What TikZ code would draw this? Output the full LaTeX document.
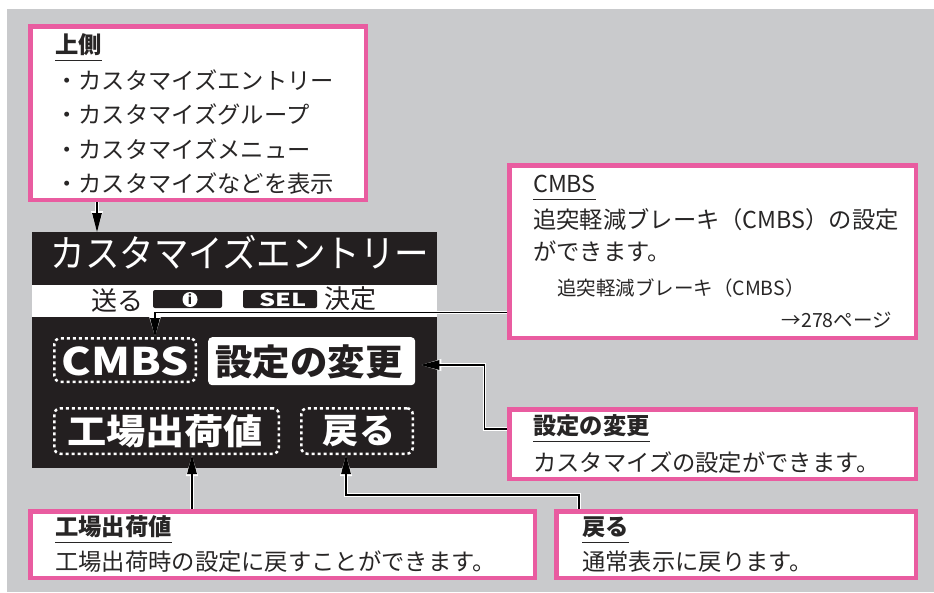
\documentclass[tikz,border=0pt]{standalone}
\usepackage{fontspec}
\setmainfont{Noto Sans CJK JP}
\usetikzlibrary{arrows.meta}
\definecolor{bggray}{RGB}{201,202,204}
\definecolor{mypink}{RGB}{233,92,160}
\definecolor{scrblack}{RGB}{35,31,32}
\definecolor{txt}{RGB}{40,38,38}
\begin{document}
\begin{tikzpicture}[x=1pt,y=-1pt,
  callout/.style={draw=mypink, line width=4.5pt, fill=white, inner sep=0pt, anchor=north west},
  body/.style={anchor=base west, inner sep=0pt, text=txt, font=\fontsize{23.3}{28}\selectfont},
  small/.style={body, font=\fontsize{19.5}{24}\selectfont},
  ttl/.style={body, font=\fontsize{23.3}{28}\selectfont\bfseries},
  uline/.style={line width=1pt, txt},
  dotbox/.style={draw=white, line width=2.5pt, dash pattern=on 3pt off 3pt, rounded corners=6pt, inner sep=0pt, anchor=north west},
  scrtxt/.style={inner sep=0pt, text=white},
  bandtxt/.style={inner sep=0pt, text=scrblack, font=\fontsize{26}{30}\selectfont},
  tabbox/.style={fill=scrblack, rounded corners=2pt, minimum height=18pt, inner sep=0pt},
  conn/.style={line width=1.4pt, black, -{Triangle[length=19pt,width=9.5pt]},
    preaction={draw=white, line width=3.6pt, -{Triangle[length=21pt,width=11pt]}}}
]
\useasboundingbox (0,0) rectangle (934,592);
\fill[white] (0,0) rectangle (934,592);
\fill[bggray] (7,9) rectangle (934,592);

% screen
\node[fill=scrblack, minimum width=405pt, minimum height=236pt, inner sep=0pt, outer sep=0pt, anchor=north west] (scr) at (32,232) {};
\node[fill=white, minimum width=405pt, minimum height=32pt, inner sep=0pt, outer sep=0pt, anchor=north west] (band) at (32,285) {};
\node[scrtxt, font=\fontsize{34.5}{40}\selectfont] (stitle) at (240,252) {\scalebox{1}[1.1]{カスタマイズエントリー}};
\node[bandtxt] (okuru) at (117,301) {送る};
\node[tabbox, minimum width=69pt] (itab) at (187.5,299) {};
\node[circle, fill=white, minimum size=15pt, inner sep=0pt] (iicon) at (190,299.5) {};
\node[inner sep=0pt, text=scrblack, font=\fontsize{13}{13}\selectfont\bfseries] (ichar) at (iicon) {i};
\node[tabbox, minimum width=74pt] (seltab) at (280,299) {};
\node[scrtxt, font=\fontsize{18}{18}\selectfont\bfseries] (seltxt) at (283,300) {\scalebox{1.4}[1]{SEL}};
\node[bandtxt] (kettei) at (350,299) {決定};

\node[dotbox, minimum width=141.5pt, minimum height=43.5pt] (cmbs) at (53,337) {};
\node[scrtxt, font=\fontsize{38}{40}\selectfont\bfseries] (cmbst) at (125,361) {\scalebox{1.17}[1]{CMBS}};
\node[fill=white, rounded corners=4pt, minimum width=207pt, minimum height=48pt, inner sep=0pt, anchor=north west] (setc) at (208,337) {};
\node[inner sep=0pt, text=scrblack, font=\fontsize{36}{40}\selectfont\bfseries] (setct) at (309,362) {\scalebox{1.04}[1]{設定の変更}};
\node[dotbox, minimum width=224.5pt, minimum height=45.5pt] (fact) at (53,407) {};
\node[scrtxt, font=\fontsize{35}{40}\selectfont\bfseries] (factt) at (165,431) {\scalebox{1.12}[1]{工場出荷値}};
\node[dotbox, minimum width=111.5pt, minimum height=45.5pt] (back) at (300,407) {};
\node[scrtxt, font=\fontsize{35}{40}\selectfont\bfseries] (backt) at (359,431) {\scalebox{1.03}[1]{戻る}};

% callout: top
\node[callout, minimum width=335.5pt, minimum height=173.5pt] (cTop) at (28,24) {};
\node[ttl] (tTop) at (55,53.5) {上側};
\draw[uline] ([yshift=-6.5pt]tTop.base west) -- ([yshift=-6.5pt]tTop.base east);
\node[body] (l1) at (55,89.5) {・カスタマイズエントリー};
\node[body] (l2) at (55,123.9) {・カスタマイズグループ};
\node[body] (l3) at (55,158.3) {・カスタマイズメニュー};
\node[body] (l4) at (55,192.7) {・カスタマイズなどを表示};

% callout: CMBS
\node[callout, minimum width=406.5pt, minimum height=172.5pt] (cCmbs) at (507,163) {};
\node[body] (tCmbs) at (533,192) {CMBS};
\draw[uline] ([yshift=-7pt]tCmbs.base west) -- ([yshift=-7pt]tCmbs.base east);
\node[body] (m1) at (533,228.5) {追突軽減ブレーキ（CMBS）の設定};
\node[body] (m2) at (533,260.5) {ができます。};
\node[small] (m3) at (557,295.5) {追突軽減ブレーキ（CMBS）};
\node[small, anchor=base east] (m4) at (892,327) {→278ページ};

% callout: settei
\node[callout, minimum width=406.5pt, minimum height=69.5pt] (cSet) at (507,407) {};
\node[ttl] (tSet) at (533,434.5) {設定の変更};
\draw[uline] ([yshift=-6.5pt]tSet.base west) -- ([yshift=-6.5pt]tSet.base east);
\node[body] (s1) at (533,471.5) {カスタマイズの設定ができます。};

% callout: factory
\node[callout, minimum width=504.5pt, minimum height=66.5pt] (cFact) at (28,509) {};
\node[ttl] (tFact) at (55,535.5) {工場出荷値};
\draw[uline] ([yshift=-6.5pt]tFact.base west) -- ([yshift=-6.5pt]tFact.base east);
\node[body] (f1) at (55,570.5) {工場出荷時の設定に戻すことができます。};

% callout: back
\node[callout, minimum width=359.5pt, minimum height=66.5pt] (cBack) at (554,509) {};
\node[ttl] (tBack) at (582,535.5) {戻る};
\draw[uline] ([yshift=-6.5pt]tBack.base west) -- ([yshift=-6.5pt]tBack.base east);
\node[body] (b1) at (582,570.5) {通常表示に戻ります。};

% connectors
\coordinate (k1) at (97,0);
\coordinate (k2) at (155,312.5);
\coordinate (k3) at (484.5,429);
\coordinate (k3b) at (484.5,365);
\coordinate (k4) at (192,0);
\coordinate (k5) at (579,495);
\coordinate (k5b) at (346,495);
\draw[conn] (k1 |- cTop.south) -- (k1 |- scr.north);
\draw[conn] (k2 -| cCmbs.west) -- (k2) -- (k2 |- cmbs.north);
\draw[conn] (k3 -| cSet.west) -- (k3) -- (k3b) -- ([xshift=5pt]k3b -| setc.east);
\draw[conn] (k4 |- cFact.north) -- (k4 |- fact.south);
\draw[conn] (k5 |- cBack.north) -- (k5) -- (k5b) -- (k5b |- back.south);
\end{tikzpicture}
\end{document}
